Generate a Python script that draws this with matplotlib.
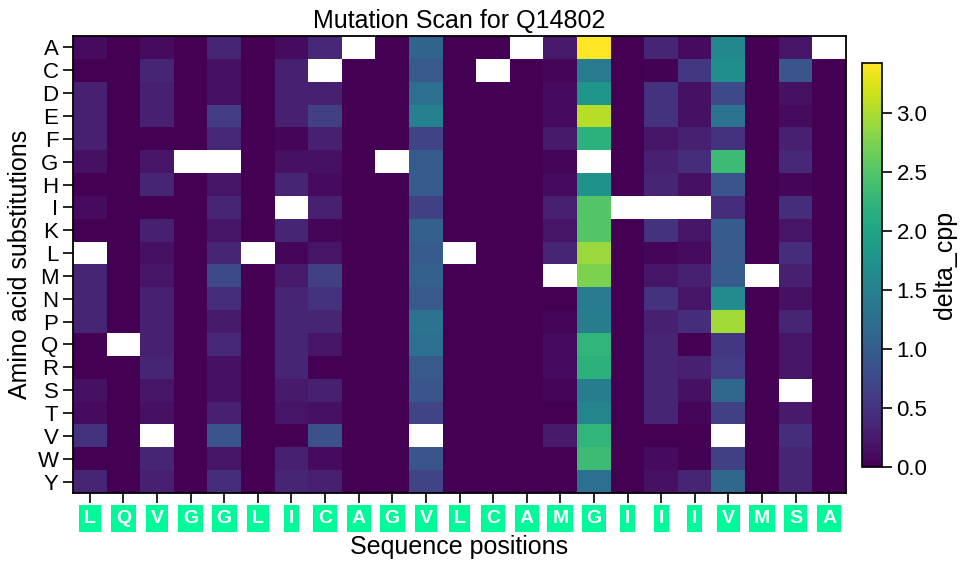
import numpy as np
import matplotlib
matplotlib.use("Agg")
import matplotlib.pyplot as plt

plt.rcParams['font.family'] = ['Liberation Sans', 'DejaVu Sans']

title = "Mutation Scan for Q14802"
sequence = list("LQVGGLICAGVLCAMGIIIVMSA")
amino_acids = list("ACDEFGHIKLMNPQRSTVWY")

n = np.nan
# rows: amino acid substitutions, columns: sequence positions
row_A = [0.10, 0, 0.10, 0, 0.35, 0, 0.10, 0.40, n, 0, 1.10, 0, 0, n, 0.25, 3.42, 0, 0.35, 0.10, 1.60, 0, 0.20, n]
row_C = [0, 0, 0.35, 0, 0.15, 0, 0.30, n, 0, 0, 0.95, 0, n, 0, 0.05, 1.40, 0, 0.02, 0.55, 1.70, 0, 0.90, 0]
row_D = [0.30, 0, 0.30, 0, 0.15, 0, 0.30, 0.30, 0, 0, 1.25, 0, 0, 0, 0.10, 1.80, 0, 0.50, 0.15, 0.75, 0, 0.15, 0]
row_E = [0.30, 0, 0.30, 0, 0.60, 0, 0.30, 0.65, 0, 0, 1.50, 0, 0, 0, 0.10, 3.05, 0, 0.50, 0.15, 1.30, 0, 0.10, 0]
row_F = [0.30, 0, 0, 0, 0.40, 0, 0.05, 0.30, 0, 0, 0.70, 0, 0, 0, 0.25, 2.20, 0, 0.20, 0.30, 0.50, 0, 0.30, 0]
row_G = [0.15, 0, 0.20, n, n, 0, 0.15, 0.15, 0, n, 1.00, 0, 0, 0, 0.05, n, 0, 0.30, 0.45, 2.35, 0, 0.40, 0]
row_H = [0, 0, 0.35, 0, 0.20, 0, 0.35, 0.10, 0, 0, 1.00, 0, 0, 0, 0.10, 1.75, 0, 0.35, 0.15, 0.90, 0, 0.05, 0]
row_I = [0.10, 0, 0, 0, 0.35, 0, n, 0.30, 0, 0, 0.65, 0, 0, 0, 0.30, 2.50, n, n, n, 0.45, 0, 0.45, 0]
row_K = [0, 0, 0.30, 0, 0.20, 0, 0.35, 0.05, 0, 0, 1.05, 0, 0, 0, 0.20, 2.50, 0, 0.50, 0.20, 1.00, 0, 0.20, 0]
row_L = [n, 0, 0.15, 0, 0.35, n, 0.05, 0.20, 0, 0, 1.00, n, 0, 0, 0.35, 2.90, 0, 0.05, 0.10, 0.95, 0, 0.45, 0]
row_M = [0.35, 0, 0.20, 0, 0.75, 0, 0.25, 0.65, 0, 0, 1.05, 0, 0, 0, n, 2.75, 0, 0.20, 0.30, 1.00, n, 0.30, 0]
row_N = [0.35, 0, 0.30, 0, 0.45, 0, 0.35, 0.50, 0, 0, 0.95, 0, 0, 0, 0, 1.40, 0, 0.50, 0.20, 1.65, 0, 0.15, 0]
row_P = [0.35, 0, 0.30, 0, 0.25, 0, 0.35, 0.35, 0, 0, 1.30, 0, 0, 0, 0.05, 1.45, 0, 0.30, 0.45, 2.95, 0, 0.35, 0]
row_Q = [0, n, 0.30, 0, 0.40, 0, 0.35, 0.20, 0, 0, 1.25, 0, 0, 0, 0.10, 2.25, 0, 0.35, 0, 0.55, 0, 0.20, 0]
row_R = [0, 0, 0.35, 0, 0.15, 0, 0.35, 0, 0, 0, 0.95, 0, 0, 0, 0.10, 2.20, 0, 0.35, 0.30, 0.60, 0, 0.20, 0]
row_S = [0.15, 0, 0.20, 0, 0.15, 0, 0.25, 0.30, 0, 0, 0.90, 0, 0, 0, 0.05, 1.45, 0, 0.35, 0.15, 1.15, 0, n, 0]
row_T = [0.10, 0, 0.15, 0, 0.30, 0, 0.20, 0.15, 0, 0, 0.70, 0, 0, 0, 0, 1.55, 0, 0.35, 0.05, 0.65, 0, 0.25, 0]
row_V = [0.50, 0, n, 0, 0.90, 0, 0, 0.85, 0, 0, n, 0, 0, 0, 0.25, 2.25, 0, 0, 0, n, 0, 0.45, 0]
row_W = [0, 0, 0.35, 0, 0.20, 0, 0.30, 0.10, 0, 0, 0.90, 0, 0, 0, 0, 2.35, 0, 0.10, 0.02, 0.65, 0, 0.35, 0]
row_Y = [0.35, 0, 0.30, 0, 0.45, 0, 0.35, 0.30, 0, 0, 0.70, 0, 0, 0, 0, 1.25, 0, 0.15, 0.35, 1.15, 0, 0.35, 0]

rows = [row_A, row_C, row_D, row_E, row_F, row_G, row_H, row_I, row_K, row_L,
        row_M, row_N, row_P, row_Q, row_R, row_S, row_T, row_V, row_W, row_Y]
data = np.ma.masked_invalid(np.array(rows, dtype=float))

fig = plt.figure(figsize=(9.66, 5.66), dpi=100)
W, H = 966, 566
ax = fig.add_axes([73 / W, (H - 493) / H, (846 - 73) / W, (493 - 36) / H])
cax = fig.add_axes([862 / W, (H - 467) / H, 20 / W, (467 - 63) / H])

cmap = plt.get_cmap('viridis').copy()
cmap.set_bad('white')
im = ax.imshow(data, cmap=cmap, aspect='auto', interpolation='nearest',
               vmin=0, vmax=np.nanmax(np.array(rows, dtype=float)))

ax.set_yticks(np.arange(len(amino_acids)))
ax.set_yticklabels(amino_acids, fontsize=16)
ax.set_xticks(np.arange(len(sequence)))
ax.set_xticklabels(sequence, fontsize=14, fontweight='bold', color='white')
for lab in ax.get_xticklabels():
    lab.set_bbox(dict(facecolor='#00FA9A', edgecolor='none', boxstyle='square,pad=0.25'))
ax.tick_params(axis='both', length=7, width=1.2, direction='out')
ax.tick_params(axis='x', pad=5)
for sp in ax.spines.values():
    sp.set_linewidth(1.3)

ax.set_title(title, fontsize=18, pad=6)
ax.set_xlabel("Sequence positions", fontsize=18, labelpad=6)
ax.set_ylabel("Amino acid substitutions", fontsize=18, labelpad=4)

cb = fig.colorbar(im, cax=cax)
cb.set_ticks([0.0, 0.5, 1.0, 1.5, 2.0, 2.5, 3.0])
cb.ax.tick_params(labelsize=16, length=7, width=1.2)
cb.outline.set_linewidth(1.2)
cb.set_label("delta_cpp", fontsize=18)

fig.savefig("out.png", dpi=100)
